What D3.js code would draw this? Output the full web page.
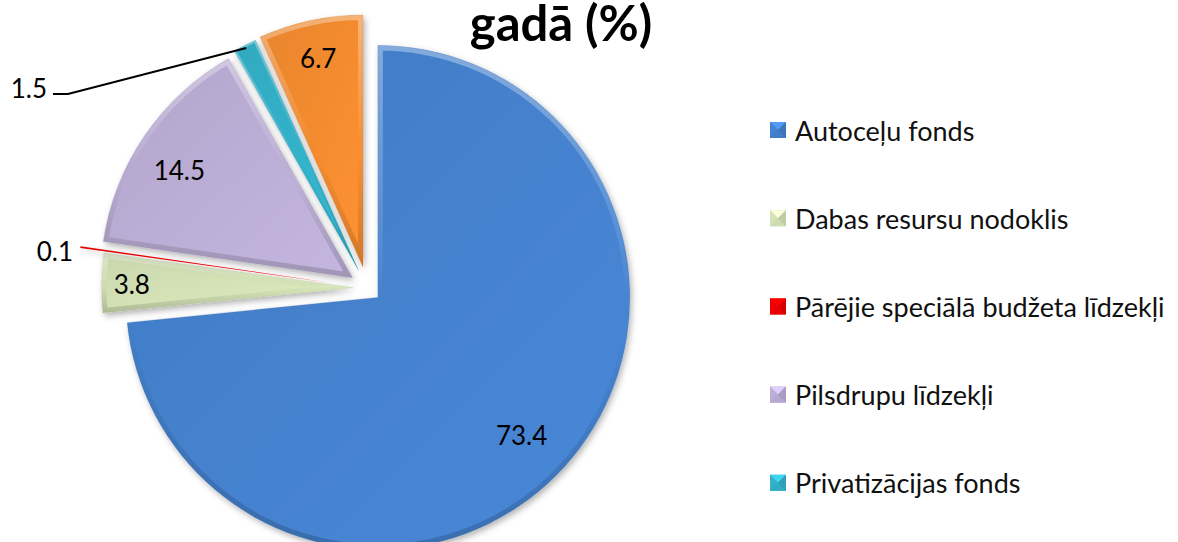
<!DOCTYPE html>
<html><head><meta charset="utf-8">
<script src="https://cdn.jsdelivr.net/npm/d3@7/dist/d3.min.js"></script>
<style>
body{margin:0;background:#fff;overflow:hidden;}
svg{display:block;font-family:Lato,"Open Sans",sans-serif;}
</style>
</head><body>
<svg id="chart" width="1178" height="542"></svg>
<script>
// ---- data ----
const categories = ["Autoceļu fonds","Dabas resursu nodoklis","Pārējie speciālā budžeta līdzekļi","Pilsdrupu līdzekļi","Privatizācijas fonds","Valsts pamatbudžets"];
const values = [73.4, 3.8, 0.1, 14.5, 1.5, 6.7];
const valueLabels = ["73.4","3.8","0.1","14.5","1.5","6.7"];
const titleText = "gadā (%)";
const visibleLegendItems = 5; // the reference crops the legend after five rows

// ---- style ----
const colors = ["#4582cf","#d5e3b7","#ee0000","#bcaed6","#34b2cb","#f58c2f"];
const explode = [14, 14, 38, 18, 20, 21.5];
const labelR = [0.79, 0.88, null, 0.81, null, 0.85];
const labelDA = [0.029, 0, 0, -0.043, 0, 0];
const cx = 367.5, cy = 288, R = 252;

const svg = d3.select("#chart");
const defs = svg.append("defs");

const shadow = defs.append("filter").attr("id","shadow").attr("x","-20%").attr("y","-20%").attr("width","140%").attr("height","140%");
shadow.append("feDropShadow").attr("dx",2).attr("dy",3).attr("stdDeviation",3).attr("flood-color","#000").attr("flood-opacity",0.3);

const bevel = defs.append("linearGradient").attr("id","bevel").attr("x1",0).attr("y1",0).attr("x2",0).attr("y2",1);
bevel.append("stop").attr("offset","0%").attr("stop-color","#fff").attr("stop-opacity",0.35);
bevel.append("stop").attr("offset","45%").attr("stop-color","#fff").attr("stop-opacity",0.05);
bevel.append("stop").attr("offset","55%").attr("stop-color","#000").attr("stop-opacity",0.0);
bevel.append("stop").attr("offset","100%").attr("stop-color","#000").attr("stop-opacity",0.18);

colors.forEach((c,i)=>{
  const g = defs.append("linearGradient").attr("id","fill"+i).attr("x1",0).attr("y1",0).attr("x2",1).attr("y2",1);
  g.append("stop").attr("offset","0%").attr("stop-color", d3.color(c).darker(0.15));
  g.append("stop").attr("offset","100%").attr("stop-color", d3.color(c).brighter(0.12));
});

const pie = d3.pie().sort(null).value(d=>d).startAngle(0).endAngle(2*Math.PI);
const arcs = pie(values);
const arc = d3.arc().innerRadius(0).outerRadius(R);

function dirAt(m){ return [Math.sin(m), -Math.cos(m)]; }
function dirOf(a){ return dirAt((a.startAngle+a.endAngle)/2); }

const slices = svg.append("g");
arcs.forEach((a,i)=>{
  const [dx,dy] = dirOf(a);
  const g = slices.append("g").attr("transform",`translate(${cx+dx*explode[i]},${cy+dy*explode[i]})`);
  const cp = defs.append("clipPath").attr("id","clip"+i);
  cp.append("path").attr("d", arc(a));
  g.append("path").attr("d", arc(a)).attr("fill", `url(#fill${i})`).attr("filter","url(#shadow)");
  if (values[i] > 1) {
    g.append("path").attr("d", arc(a)).attr("fill","none").attr("stroke","url(#bevel)")
      .attr("stroke-width", values[i] > 3 ? 10 : 4).attr("clip-path",`url(#clip${i})`);
    g.append("path").attr("d", arc(a)).attr("fill","none")
      .attr("stroke", d3.color(colors[i]).darker(0.6)).attr("stroke-opacity",0.2).attr("stroke-width",1);
  }
});

// inside labels
const labelG = svg.append("g").attr("font-size",26).attr("fill","#000");
arcs.forEach((a,i)=>{
  if (labelR[i]==null) return;
  const m = (a.startAngle+a.endAngle)/2;
  const [ex,ey] = dirOf(a);
  const [dx,dy] = dirAt(m + labelDA[i]);
  const r = labelR[i]*R;
  labelG.append("text").attr("x", cx+ex*explode[i]+dx*r).attr("y", cy+ey*explode[i]+dy*r)
    .attr("text-anchor","middle").attr("dominant-baseline","central").text(valueLabels[i]);
});

// outside labels
labelG.append("text").attr("x",73).attr("y",251).attr("text-anchor","end").attr("dominant-baseline","central").text(valueLabels[2]);
{
  const a = arcs[4]; const [dx,dy] = dirOf(a);
  const ex = cx + dx*(R+explode[4]-3), ey = cy + dy*(R+explode[4]-3);
  svg.append("path").attr("d", d3.line()([[53,94],[68,94],[ex,ey]]))
    .attr("fill","none").attr("stroke","#000").attr("stroke-width",2);
  labelG.append("text").attr("x",47).attr("y",88).attr("text-anchor","end").attr("dominant-baseline","central").text(valueLabels[4]);
}

// title (visible part)
svg.append("text").attr("x",561).attr("y",41).attr("text-anchor","middle")
  .attr("font-size",49).attr("font-weight","bold").attr("fill","#000").text(titleText);

// legend
const lg = svg.append("g");
categories.slice(0, visibleLegendItems).forEach((c,i)=>{
  const y = 130 + i*88.2;
  const g = lg.append("g").attr("transform",`translate(770,${y})`);
  const s=16, h=s/2;
  const col = d3.color(colors[i]);
  g.append("rect").attr("x",0).attr("y",-h).attr("width",s).attr("height",s).attr("fill",col.darker(0.2));
  g.append("path").attr("d",`M0,${-h}L${s},${-h}L${h},0Z`).attr("fill",col.brighter(0.5));
  g.append("path").attr("d",`M0,${h}L${s},${h}L${h},0Z`).attr("fill",col.darker(0.1));
  g.append("path").attr("d",`M0,${-h}L0,${h}L${h},0Z`).attr("fill",col);
  g.append("path").attr("d",`M${s},${-h}L${s},${h}L${h},0Z`).attr("fill",col.darker(0.3));
  g.append("text").attr("x",25).attr("y",0).attr("dominant-baseline","central")
    .attr("font-size",27).attr("fill","#111").text(c);
});
</script>
</body></html>
